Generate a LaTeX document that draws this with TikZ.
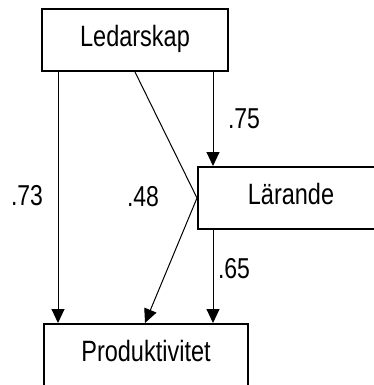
\documentclass[tikz,border=0pt]{standalone}
\usepackage{graphicx}
\usepackage{fontspec}
\setmainfont{Liberation Sans}
\usetikzlibrary{arrows.meta}
% text set slightly condensed: taller than wide
\newcommand{\tall}[1]{\scalebox{1}[1.25]{#1}}
\begin{document}
\begin{tikzpicture}[x=1pt,y=-1pt,
  box/.style={draw,line width=2pt,inner sep=0pt,minimum height=62pt,
    text height=20.6pt,text depth=8pt,
    font=\fontsize{23.5}{28}\selectfont},
  arr/.style={line width=1pt,-{Triangle[width=13pt,length=14pt]}},
  link/.style={line width=1pt},
  coef/.style={inner sep=0pt,text height=20.6pt,text depth=0pt,
    font=\fontsize{23}{28}\selectfont}]
  \useasboundingbox (0,0) rectangle (374,385);
  \clip (0,0) rectangle (374,385);

  % variables
  \node[box,minimum width=186pt] (led)  at (135,40)  {\tall{Ledarskap}};
  \node[box,minimum width=186pt] (lar)  at (291,198) {\tall{Lärande}};
  \node[box,minimum width=204pt] (prod) at (146,355) {\tall{Produktivitet}};

  % paths
  \draw[arr] ([xshift=17pt]led.south west) -- ([xshift=17pt]led.south west |- prod.north);
  \draw[arr] ([xshift=16pt]lar.north west |- led.south) -- ([xshift=16pt]lar.north west);
  \draw[arr] ([xshift=16pt]lar.south west) -- ([xshift=16pt]lar.south west |- prod.north);
  \draw[link] (led.south) -- (lar.west);
  \draw[arr] (lar.west) -- ([xshift=-1pt]prod.north);

  % path coefficients
  \node[coef] (c73) at (27,195)  {\tall{.73}};
  \node[coef] (c48) at (143,196) {\tall{.48}};
  \node[coef] (c75) at (244,118) {\tall{.75}};
  \node[coef] (c65) at (234,268) {\tall{.65}};
\end{tikzpicture}
\end{document}
